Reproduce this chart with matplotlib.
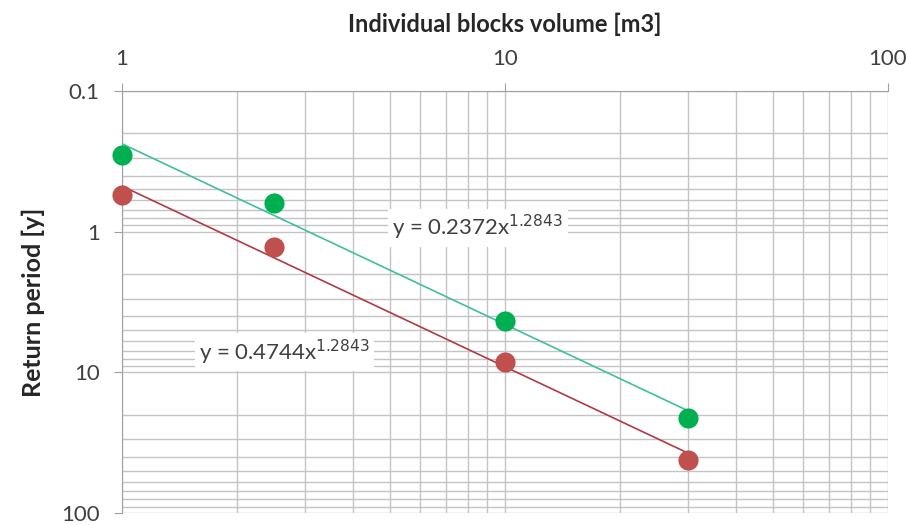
import numpy as np
import matplotlib
matplotlib.use("Agg")
import matplotlib.pyplot as plt
from matplotlib.ticker import LogLocator, FixedLocator, FixedFormatter, NullFormatter

plt.rcParams['font.family'] = ['Lato', 'DejaVu Sans']

# block volume [m3] and return period [y]
volume = [1, 2.5, 10, 30]
period_green = [0.285, 0.625, 4.3, 21.2]
period_red = [0.548, 1.285, 8.4, 41.9]

# power-law trendlines y = a * x^b as labelled
fit_green = (0.2372, 1.2843)
fit_red = (0.4744, 1.2843)

x_ticks = [1, 10, 100]
x_labels = ["1", "10", "100"]
y_ticks = [0.1, 1, 10, 100]
y_labels = ["0.1", "1", "10", "100"]

fig = plt.figure(figsize=(9.06, 5.25), dpi=100)
ax = fig.add_axes([0.1347, 0.0229, 0.8453, 0.8038])

ax.set_xscale('log')
ax.set_yscale('log')
ax.set_xlim(1, 100)
ax.set_ylim(100, 0.1)

xs = np.logspace(0, np.log10(volume[-1]), 50)
ax.plot(xs, fit_green[0] * xs ** fit_green[1], color='#3fbfa0', lw=1.2, zorder=3)
ax.plot(xs, fit_red[0] * xs ** fit_red[1], color='#b03a48', lw=1.2, zorder=3)

ax.plot(volume, period_green, 'o', color='#00b050', ms=14.5, mec='none', zorder=4, clip_on=False)
ax.plot(volume, period_red, 'o', color='#c0504d', ms=14.5, mec='none', zorder=4, clip_on=False)

ax.text(8.5, 0.94, r"y = 0.2372x$^{1.2843}$", fontsize=16, color='#404040',
        ha='center', va='center', zorder=5,
        bbox=dict(facecolor='white', edgecolor='none', pad=3))
ax.text(2.66, 7.2, r"y = 0.4744x$^{1.2843}$", fontsize=16, color='#404040',
        ha='center', va='center', zorder=5,
        bbox=dict(facecolor='white', edgecolor='none', pad=3))

ax.xaxis.tick_top()
ax.xaxis.set_label_position('top')
ax.xaxis.set_major_locator(FixedLocator(x_ticks))
ax.xaxis.set_major_formatter(FixedFormatter(x_labels))
ax.xaxis.set_minor_locator(LogLocator(base=10, subs=np.arange(2, 10)))
ax.xaxis.set_minor_formatter(NullFormatter())
ax.yaxis.set_major_locator(FixedLocator(y_ticks))
ax.yaxis.set_major_formatter(FixedFormatter(y_labels))
ax.yaxis.set_minor_locator(LogLocator(base=10, subs=np.arange(2, 10)))
ax.yaxis.set_minor_formatter(NullFormatter())

ax.grid(True, which='both', color='#c4c4c4', lw=1.0)
ax.set_axisbelow(True)
ax.tick_params(which='major', length=6, color='#a0a0a0', labelsize=16,
               labelcolor='#404040', pad=10)
ax.tick_params(which='minor', length=0)
for side in ['right', 'bottom']:
    ax.spines[side].set_visible(False)
for side in ['left', 'top']:
    ax.spines[side].set_color('#a0a0a0')

ax.set_xlabel("Individual blocks volume [m3]", fontsize=17, fontweight='bold',
              color='#262626', labelpad=12)
ax.set_ylabel("Return period [y]", fontsize=18, fontweight='bold',
              color='#262626', labelpad=12)

fig.savefig("out.png", dpi=100)
